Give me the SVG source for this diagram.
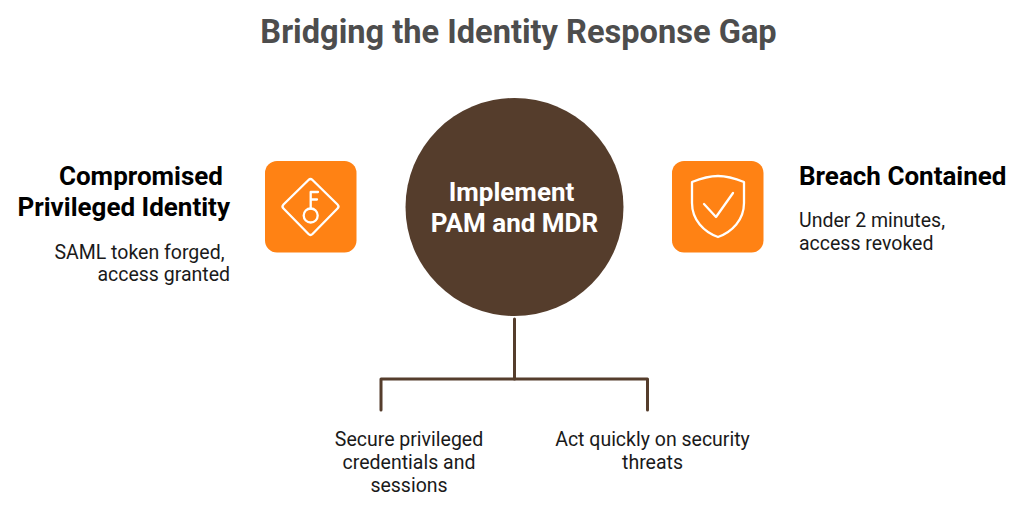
<svg xmlns="http://www.w3.org/2000/svg" width="1024" height="510" viewBox="0 0 1024 510">
<style>
text{font-family:Roboto,"Liberation Sans",sans-serif}
.title{font-size:32.600px;font-weight:700;fill:#4d4d4d;text-anchor:middle}
.head{font-size:26px;font-weight:700;fill:#000}
.body{font-size:19.500px;fill:#1a1a1a}
.c{text-anchor:middle}
.e{text-anchor:end}
.center{font-size:26px;font-weight:700;fill:#fff;text-anchor:middle}
.tile{fill:#ff8214}
.ic{fill:none;stroke:#fff;stroke-width:2.300;stroke-linecap:round;stroke-linejoin:round}
.conn{fill:none;stroke:#553d2c;stroke-width:3;stroke-linecap:round;stroke-linejoin:round}
</style>
<rect width="1024" height="510" fill="#fff"/>
<text class="title" x="518.500" y="42.500">Bridging the Identity Response Gap</text>
<g id="connectors">
<path class="conn" d="M514.500 319V379"/>
<path class="conn" d="M381 410V379H647.500V410"/>
</g>
<g id="node-center">
<circle cx="514.500" cy="207" r="109" fill="#553d2c"/>
<text class="center" x="511.500" y="200.500">Implement</text>
<text class="center" x="514.500" y="231.500">PAM and MDR</text>
</g>
<g id="node-compromised">
<text class="head e" x="223" y="184.500">Compromised</text>
<text class="head e" x="230" y="215.500">Privileged Identity</text>
<text class="body e" x="224.500" y="258.500">SAML token forged,</text>
<text class="body e" x="230" y="281">access granted</text>
<rect class="tile" x="265" y="161" width="91.500" height="91.500" rx="12"/>
<path class="ic" d="M308.500 180Q310.500 178 312.500 180L337.500 204.500Q339.500 206.500 337.500 208.500L312.500 234Q310.500 236 308.500 234L283.500 208.500Q281.500 206.500 283.500 204.500Z"/>
<circle class="ic" cx="310.700" cy="215.500" r="7"/>
<path class="ic" d="M310.700 208.500V192H318M310.700 199.500H317"/>
</g>
<g id="node-contained">
<rect class="tile" x="672" y="161" width="91.500" height="91.500" rx="12"/>
<path class="ic" d="M692 182C702 178 709 176 718 176C727 176 734 178 744 182V203C744 220 732 232 718 237C704 232 692 220 692 203Z"/>
<path class="ic" d="M704 204L716 217L733 193"/>
<text class="head" x="799" y="184.500">Breach Contained</text>
<text class="body" x="799" y="226.500">Under 2 minutes,</text>
<text class="body" x="799" y="249.500">access revoked</text>
</g>
<g id="node-secure">
<text class="body c" x="409" y="445.500">Secure privileged</text>
<text class="body c" x="409" y="468.500">credentials and</text>
<text class="body c" x="409" y="491.500">sessions</text>
</g>
<g id="node-act">
<text class="body c" x="652.500" y="445.500">Act quickly on security</text>
<text class="body c" x="652.500" y="468.500">threats</text>
</g>
</svg>
